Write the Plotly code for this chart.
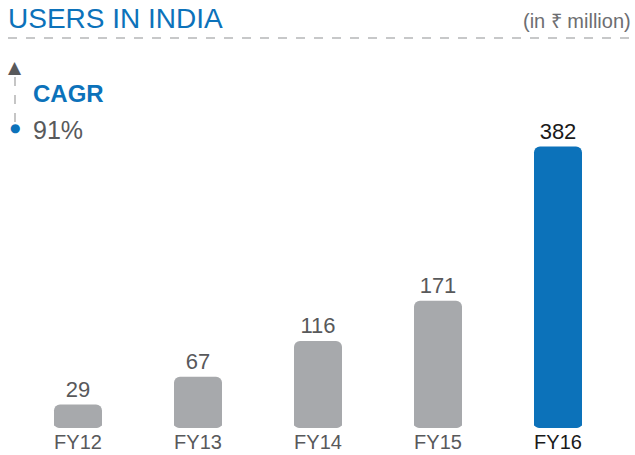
import plotly.graph_objects as go

categories = ["FY12", "FY13", "FY14", "FY15", "FY16"]
users = [29, 67, 116, 171, 382]
highlight = [False, False, False, False, True]

GRAY = "#A7A9AC"
BLUE = "#0C72BA"
TXT_GRAY = "#58595B"
FONT = "Liberation Sans, Arial, sans-serif"

bar_colors = [BLUE if h else GRAY for h in highlight]
label_colors = ["#1a1a1a" if h else TXT_GRAY for h in highlight]
ticktext = [f'<span style="color:{c}">{t}</span>' for t, c in zip(categories, label_colors)]

W, H = 635, 455
ML, MR, MT, MB = 18, 17, 100, 27
PX_PER_UNIT = 0.731
PAD = 3        # rounded foot under the baseline (style only)
CAP_UP = 12    # how far the rounded foot reaches up inside the bar (style only)
plot_w = W - ML - MR
plot_h = H - MT - MB
ymin = -PAD
ymax = ymin + plot_h / PX_PER_UNIT


def px(x):
    return (x - ML) / plot_w


def py(y):
    return (H - MB - y) / plot_h


fig = go.Figure()
# rounded foot (drawn underneath, same colour)
fig.add_trace(go.Bar(
    x=categories, y=[-(PAD + CAP_UP)] * len(categories), base=[CAP_UP] * len(categories),
    marker=dict(color=bar_colors, cornerradius=6, line=dict(width=0)), hoverinfo="skip",
))
# main bars
fig.add_trace(go.Bar(
    x=categories, y=users, marker=dict(color=bar_colors, cornerradius=6, line=dict(width=0)),
    text=[str(v) for v in users], textposition="outside", cliponaxis=False,
    textfont=dict(family=FONT, size=22, color=label_colors), hoverinfo="x+y",
))

fig.update_layout(
    width=W, height=H, barmode="overlay", bargap=0.6, showlegend=False,
    margin=dict(l=ML, r=MR, t=MT, b=MB, pad=0),
    paper_bgcolor="white", plot_bgcolor="white",
    font=dict(family=FONT, color=TXT_GRAY),
    xaxis=dict(tickmode="array", tickvals=categories, ticktext=ticktext, range=[-0.5, 4.5],
               tickfont=dict(size=20, family=FONT), showgrid=False, zeroline=False,
               showline=False, ticks="", ticklen=0, automargin=False),
    yaxis=dict(range=[ymin, ymax], visible=False, showgrid=False, zeroline=False, automargin=False),
    shapes=[
        dict(type="line", xref="paper", yref="paper", x0=px(8), x1=px(635),
             y0=py(38), y1=py(38),
             line=dict(color="#B5B6B8", width=1.5, dash="dash")),
        dict(type="line", xref="paper", yref="paper",
             x0=px(15), x1=px(15), y0=py(122), y1=py(77),
             line=dict(color="#A0A0A0", width=1.2, dash="dash")),
    ],
    annotations=[
        dict(text="USERS IN INDIA", xref="paper", yref="paper",
             x=px(6), y=py(18), xanchor="left", yanchor="middle",
             showarrow=False, font=dict(size=28, color=BLUE, family=FONT)),
        dict(text="(in ₹ million)", xref="paper", yref="paper",
             x=px(633), y=py(21), xanchor="right", yanchor="middle",
             showarrow=False, font=dict(size=20, color="#6D6E71", family=FONT)),
        dict(text="▲", xref="paper", yref="paper",
             x=px(15), y=py(67), xanchor="center", yanchor="middle",
             showarrow=False, font=dict(size=17, color="#58595B", family="DejaVu Sans")),
        dict(text="●", xref="paper", yref="paper",
             x=px(15), y=py(128), xanchor="center", yanchor="middle",
             showarrow=False, font=dict(size=12, color=BLUE, family="DejaVu Sans")),
        dict(text="<b>CAGR</b>", xref="paper", yref="paper",
             x=px(31), y=py(93), xanchor="left", yanchor="middle",
             showarrow=False, font=dict(size=24, color=BLUE, family=FONT)),
        dict(text="91%", xref="paper", yref="paper",
             x=px(31), y=py(130), xanchor="left", yanchor="middle",
             showarrow=False, font=dict(size=25, color=TXT_GRAY, family=FONT)),
    ],
)

fig.write_html("out.html", config={"displayModeBar": False},
               post_script="document.body.style.margin='0px';")
